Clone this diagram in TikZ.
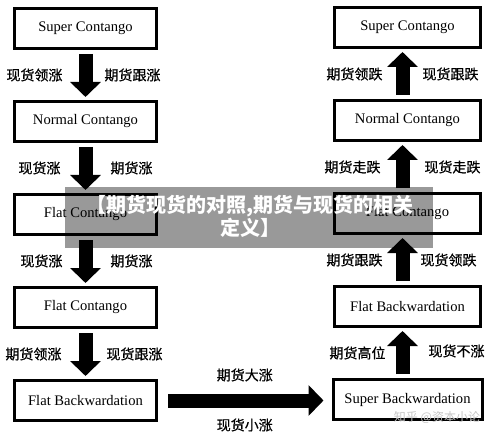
\documentclass[tikz,border=0pt]{standalone}
\usepackage{fontspec}
\setmainfont{Liberation Serif}
\newfontfamily\cjk[FakeBold=0.6]{Noto Sans CJK SC}
\newfontfamily\cjkhead{Noto Sans CJK SC}
\usetikzlibrary{arrows.meta,positioning}

\begin{document}
\begin{tikzpicture}[x=1pt,y=-1pt,>={Triangle[width=30pt,length=15pt]},
		node distance=93pt]
		\tikzstyle{box}=[draw,line width=3pt,minimum width=142pt,minimum height=40pt,
			font=\fontsize{14.6}{16}\selectfont]
		\tikzstyle{flow}=[->,line width=14pt,shorten <=4pt,shorten >=3pt]
		\tikzstyle{lbl}=[font=\cjk\fontsize{14}{16}\selectfont,inner sep=0pt]
		
		\useasboundingbox (0,0) rectangle (500,438);
		
		% left column: rising market
		\node[box] (l1) at (85.5,28.5) {Super Contango};
		\node[box] (l2) [below of=l1] {Normal Contango};
		\node[box] (l3) [below of=l2] {Flat Contango};
		\node[box] (l4) [below of=l3] {Flat Contango};
		\node[box] (l5) [below of=l4] {Flat Backwardation};
		
		% right column: falling market
		\node[box,minimum width=146pt] (r1) at (407.5,27.5) {Super Contango};
		\node[box,minimum width=146pt] (r2) [below of=r1] {Normal Contango};
		\node[box,minimum width=146pt] (r3) [below of=r2] {Flat Contango};
		\node[box,minimum width=146pt] (r4) [below of=r3] {Flat Backwardation};
		\node[box,minimum width=149pt] (r5) [below of=r4] {Super Backwardation};
		
		\draw[flow] (l1) -- (l2)
		node[midway,lbl,left=16pt] {现货领涨}
		node[midway,lbl,right=12pt] {期货跟涨};
		\draw[flow] (l2) -- (l3)
		node[midway,lbl,left=18pt] {现货涨}
		node[midway,lbl,right=18pt] {期货涨};
		\draw[flow] (l3) -- (l4)
		node[midway,lbl,left=16pt] {现货涨}
		node[midway,lbl,right=18pt] {期货涨};
		\draw[flow] (l4) -- (l5)
		node[midway,lbl,left=17pt] {期货领涨}
		node[midway,lbl,right=14pt] {现货跟涨};
		
		\draw[flow] ([xshift=-5pt]r2.north) -- ([xshift=-5pt]r1.south)
		node[midway,lbl,left=13pt] {期货领跌}
		node[midway,lbl,right=13pt] {现货跟跌};
		\draw[flow] ([xshift=-5pt]r3.north) -- ([xshift=-5pt]r2.south)
		node[midway,lbl,left=15pt] {期货走跌}
		node[midway,lbl,right=15pt] {现货走跌};
		\draw[flow] ([xshift=-5pt]r4.north) -- ([xshift=-5pt]r3.south)
		node[midway,lbl,left=13pt] {期货跟跌}
		node[midway,lbl,right=11pt] {现货领跌};
		\draw[flow] ([xshift=-5pt]r5.north) -- ([xshift=-5pt]r4.south)
		node[midway,lbl,left=10pt] {期货高位}
		node[midway,lbl,right=19pt,yshift=2pt] {现货不涨};
		
		\draw[flow,shorten <=10pt,shorten >=8pt] (l5.east) -- (l5.east -| r5.west)
		node[midway,lbl,above=12pt] {期货大涨}
		node[midway,lbl,below=11pt] {现货小涨};
		
		% watermark and title banner
		\node[font=\cjkhead\fontsize{12}{14}\selectfont,text=gray!45] (mark) at (437,417) {知乎 @资本小论};
		\fill[black,opacity=.4] (65,187) rectangle (433,248);
		\node[font=\cjkhead\bfseries\fontsize{20}{23}\selectfont,text=white,align=center,inner sep=0pt]
		(banner) at (250,216) {【期货现货的对照,期货与现货的相关\\定义】};
\end{tikzpicture}
\end{document}
